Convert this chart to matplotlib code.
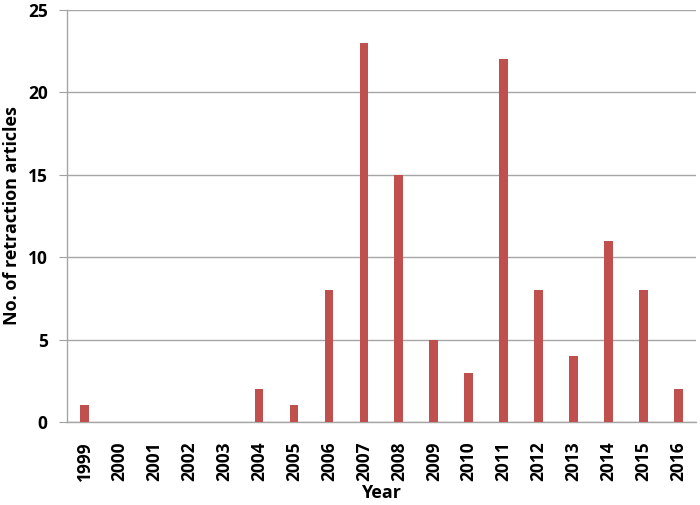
import matplotlib
matplotlib.use("Agg")
import matplotlib.pyplot as plt

years = [str(y) for y in range(1999, 2017)]
counts = [1, 0, 0, 0, 0, 2, 1, 8, 23, 15, 5, 3, 22, 8, 4, 11, 8, 2]
yticks = [0, 5, 10, 15, 20, 25]

plt.rcParams['font.family'] = ['Open Sans', 'DejaVu Sans']

fig = plt.figure(figsize=(7, 5.05), dpi=100)
ax = fig.add_axes([0.0957, 0.1644, 0.8983, 0.8158])

x = list(range(len(years)))
ax.bar(x, counts, width=0.25, color='#C0504D', zorder=3)

ax.set_xlim(-0.5, len(years) - 0.5)
ax.set_ylim(0, 25)
ax.set_yticks(yticks)
ax.set_yticklabels([str(v) for v in yticks], fontsize=12.5, fontweight='bold')
ax.set_xticks(x)
ax.set_xticklabels(years, rotation=90, fontsize=12.5, fontweight='bold')
ax.tick_params(axis='x', length=0, pad=14)
ax.tick_params(axis='y', length=6, color='#A0A0A0', pad=8)

ax.yaxis.grid(True, color='#A6A6A6', linewidth=1, zorder=0)
for s in ['top', 'right']:
    ax.spines[s].set_visible(False)
for s in ['left', 'bottom']:
    ax.spines[s].set_color('#A6A6A6')
    ax.spines[s].set_linewidth(1)

ax.set_xlabel('Year', fontsize=13, fontweight='bold', labelpad=2)
ax.set_ylabel('No. of retraction articles', fontsize=13, fontweight='bold', labelpad=5)

fig.savefig('out.png', dpi=100)
